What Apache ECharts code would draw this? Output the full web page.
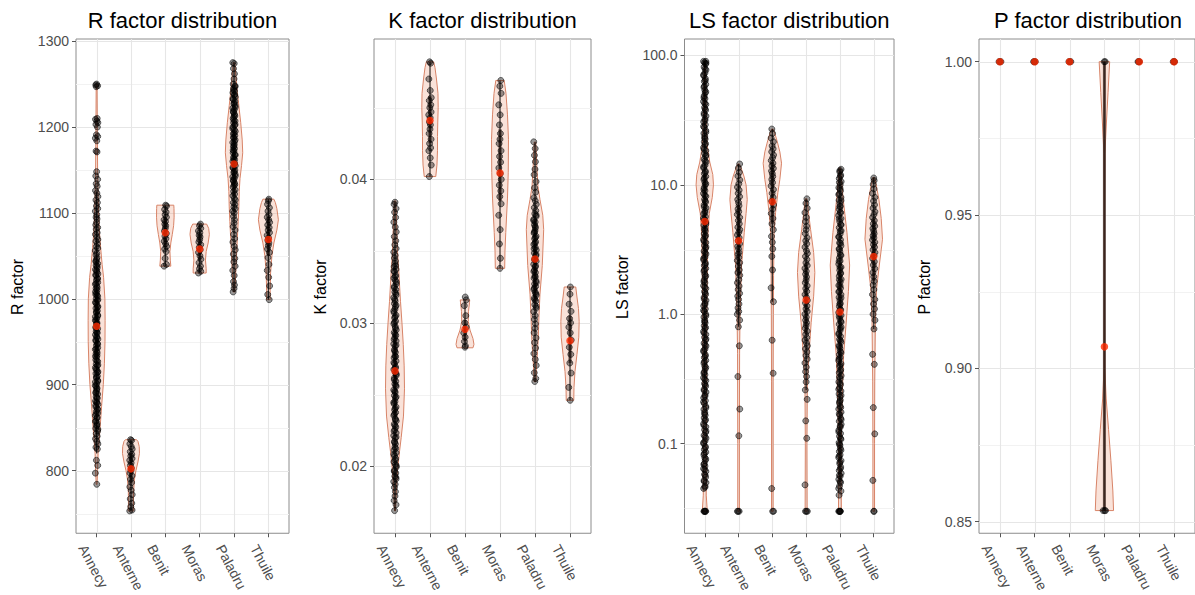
<!DOCTYPE html>
<html><head><meta charset="utf-8">
<script src="https://cdn.jsdelivr.net/npm/echarts@6/dist/echarts.min.js"></script>
<style>html,body{margin:0;padding:0;background:#fff}#c{width:1195px;height:595px}</style>
</head><body><div id="c"></div>
<script>
// ---------- categories ----------
const LAKES = ['Annecy', 'Anterne', 'Benit', 'Moras', 'Paladru', 'Thuile'];

// ---------- R factor ----------
const R_TICKS = [800, 900, 1000, 1100, 1200, 1300];
const R_MINOR = [750, 850, 950, 1050, 1150, 1250];
const R_MEANS = [968, 802, 1077, 1058, 1157, 1069];
// narrow box-plot per lake: [lower whisker, Q1, Q3, upper whisker]
const R_BOX = [[820, 930, 1010, 1125], [753, 785, 820, 836], [1038, 1060, 1095, 1109], [1030, 1045, 1075, 1087], [1008, 1120, 1195, 1275], [999, 1050, 1095, 1116]];
// violin outlines: [value, half-width (category units, from density)]
const R_VIOLIN_ANNECY = [[784,0.012],[800,0.029],[820,0.044],[850,0.102],[875,0.145],[900,0.195],[925,0.227],[950,0.244],[975,0.247],[1000,0.241],[1025,0.203],[1040,0.160],[1060,0.116],[1080,0.078],[1100,0.058],[1125,0.041],[1150,0.029],[1200,0.020],[1250,0.012]];
const R_VIOLIN_ANTERNE = [[753,0.081],[760,0.073],[775,0.076],[790,0.102],[800,0.145],[810,0.203],[820,0.247],[828,0.241],[834,0.203],[836,0.160]];
const R_VIOLIN_BENIT = [[1038,0.160],[1045,0.145],[1055,0.134],[1065,0.160],[1075,0.203],[1085,0.241],[1095,0.256],[1105,0.253],[1109,0.247]];
const R_VIOLIN_MORAS = [[1030,0.189],[1035,0.189],[1045,0.169],[1055,0.189],[1065,0.247],[1075,0.282],[1082,0.262],[1087,0.203]];
const R_VIOLIN_PALADRU = [[1008,0.023],[1030,0.049],[1050,0.073],[1070,0.096],[1090,0.122],[1107,0.140],[1125,0.151],[1140,0.174],[1155,0.218],[1170,0.253],[1185,0.238],[1205,0.195],[1225,0.140],[1241,0.096],[1260,0.052],[1275,0.023]];
const R_VIOLIN_THUILE = [[999,0.052],[1010,0.052],[1030,0.064],[1050,0.102],[1065,0.160],[1080,0.247],[1092,0.291],[1105,0.247],[1112,0.203],[1116,0.160]];
// observations
const R_PTS_ANNECY = [1250,1249,1248,1247,1210,1209,1207,1205,1203,1200,1191,1189,1187,1184,1172,1171,1148,1143,1139,1134,1131,1126,1123,1119,1115,1112,1108,1105,1102,1098,1095,1093,1089,1086,1083,1081,1077,1075,1072,1069,1067,1064,1061,1059,1056,1053,1051,1048,1046,1044,1041,1039,1036,1034,1031,1029,1027,1024,1022,1019,1017,1015,1012,1010,1007,1005,1003,1000,998,996,993,991,989,986,984,981,979,977,974,972,970,967,965,962,960,958,955,953,951,948,946,943,941,939,936,934,932,929,927,924,922,920,917,915,913,910,908,905,903,901,898,896,893,891,889,886,884,881,879,877,874,872,869,867,864,861,858,855,852,849,846,843,840,837,834,831,827,825,812,806,797,784,
  1043,1038,1033,1028,1023,1018,1013,1008,1004,999,995,990,985,980,975,971,966,961,956,952,947,942,937,933,928,923,918,914,909,904,899,895,890,885,880,876,871,866,862,857,853,848];
const R_PTS_ANTERNE = [836,835,831,828,825,822,819,817,814,812,809,806,803,800,797,794,790,786,781,777,772,767,762,758,754,753];
const R_PTS_BENIT = [1109,1108,1104,1101,1098,1095,1092,1090,1087,1085,1082,1079,1076,1073,1070,1067,1064,1061,1058,1055,1047,1040,1038];
const R_PTS_MORAS = [1087,1085,1082,1079,1077,1074,1072,1069,1066,1063,1060,1057,1054,1050,1046,1042,1038,1035,1032,1030];
const R_PTS_PALADRU = [1275,1274,1268,1262,1256,1250,1247,1245,1242,1240,1237,1235,1232,1230,1227,1225,1222,1220,1217,1215,1212,1210,1207,1205,1202,1200,1197,1195,1192,1190,1187,1185,1182,1180,1177,1175,1172,1170,1167,1165,1162,1160,1157,1155,1152,1150,1147,1145,1142,1140,1137,1135,1132,1130,1127,1125,1122,1120,1117,1115,1112,1110,1107,1105,1102,1100,1096,1092,1088,1084,1080,1075,1070,1066,1061,1057,1052,1047,1043,1038,1033,1027,1020,1016,1012,1008,
  1248,1243,1238,1233,1228,1223,1218,1213,1208,1203,1198,1193,1188,1183,1178,1173,1168,1163,1158,1153,1148,1143,1138,1133];
const R_PTS_THUILE = [1116,1114,1110,1106,1102,1098,1095,1092,1089,1086,1083,1080,1077,1074,1071,1068,1065,1062,1058,1054,1048,1040,1033,1025,1015,1005,999];

// ---------- K factor ----------
const K_TICKS = [0.02, 0.03, 0.04];
const K_MINOR = [0.025, 0.035, 0.045];
const K_MEANS = [0.02665, 0.0441, 0.02955, 0.04045, 0.03445, 0.02875];
const K_BOX = [[0.0169, 0.0235, 0.0295, 0.0384], [0.0402, 0.0425, 0.0458, 0.0482], [0.0283, 0.0287, 0.0302, 0.0316], [0.0338, 0.0385, 0.0435, 0.0469], [0.0259, 0.0315, 0.0372, 0.0426], [0.0246, 0.0272, 0.0305, 0.0325]];
const K_VIOLIN_ANNECY = [[0.0169,0.014],[0.0185,0.043],[0.0197,0.071],[0.021,0.128],[0.022,0.177],[0.0235,0.242],[0.0254,0.271],[0.027,0.262],[0.0285,0.236],[0.030,0.199],[0.0315,0.157],[0.0336,0.108],[0.035,0.071],[0.037,0.043],[0.0385,0.023]];
const K_VIOLIN_ANTERNE = [[0.0402,0.165],[0.041,0.199],[0.042,0.214],[0.043,0.214],[0.044,0.222],[0.045,0.234],[0.046,0.228],[0.047,0.185],[0.0478,0.142],[0.0482,0.105]];
const K_VIOLIN_BENIT = [[0.02826,0.228],[0.0285,0.256],[0.0289,0.228],[0.0295,0.142],[0.0301,0.094],[0.0308,0.100],[0.0314,0.128],[0.0316,0.134]];
const K_VIOLIN_MORAS = [[0.0338,0.134],[0.035,0.142],[0.0363,0.165],[0.0387,0.214],[0.0405,0.236],[0.0428,0.242],[0.0445,0.214],[0.046,0.171],[0.0469,0.120]];
const K_VIOLIN_PALADRU = [[0.0259,0.028],[0.027,0.043],[0.028,0.071],[0.029,0.094],[0.0305,0.114],[0.032,0.142],[0.034,0.208],[0.0365,0.248],[0.0375,0.222],[0.0386,0.142],[0.0395,0.085],[0.041,0.051],[0.0426,0.023]];
const K_VIOLIN_THUILE = [[0.0246,0.108],[0.0255,0.114],[0.0266,0.142],[0.0278,0.199],[0.029,0.251],[0.0301,0.262],[0.031,0.242],[0.0318,0.199],[0.0325,0.165]];
const K_PTS_ANNECY = [0.03841,0.03826,0.03797,0.03771,0.03735,0.03702,0.03668,0.03634,0.03601,0.03572,0.03544,0.03518,0.03493,0.03471,0.03452,0.03431,0.03414,0.03392,0.03373,0.03355,0.03331,0.03312,0.03296,0.03271,0.03254,0.03232,0.03215,0.03193,0.03176,0.03151,0.03134,0.03112,0.03095,0.03071,0.03053,0.03034,0.03012,0.02993,0.02975,0.02951,0.02934,0.02912,0.02896,0.02874,0.02853,0.02836,0.02813,0.02795,0.02771,0.02756,0.02733,0.02714,0.02692,0.02675,0.02653,0.02634,0.02615,0.02593,0.02574,0.02556,0.02532,0.02515,0.02493,0.02476,0.02452,0.02435,0.02414,0.02393,0.02375,0.02354,0.02332,0.02316,0.02294,0.02273,0.02255,0.02233,0.02214,0.02196,0.02173,0.02155,0.02134,0.02113,0.02095,0.02072,0.02054,0.02031,0.02013,0.01994,0.01972,0.01953,0.01931,0.01912,0.01893,0.01874,0.01852,0.01823,0.01792,0.01761,0.01732,0.01691,
  0.03398,0.03362,0.03322,0.03285,0.03244,0.03205,0.03163,0.03122,0.03083,0.03043,0.03004,0.02963,0.02923,0.02884,0.02845,0.02804,0.02764,0.02723,0.02684,0.02644,0.02603,0.02565,0.02524,0.02484,0.02445,0.02403,0.02364,0.02325,0.02284,0.02245,0.02204,0.02165,0.02124,0.02084,0.02043,0.02004,0.01963,0.01923];
const K_PTS_ANTERNE = [0.0482,0.0481,0.0470,0.0462,0.0457,0.0455,0.0452,0.0450,0.0447,0.0445,0.0443,0.0440,0.0438,0.0435,0.0432,0.0428,0.0425,0.0422,0.0420,0.0415,0.0410,0.0402];
const K_PTS_BENIT = [0.0318,0.0316,0.0312,0.0305,0.0300,0.0297,0.0293,0.0290,0.0287,0.0284,0.0283];
const K_PTS_MORAS = [0.0469,0.0465,0.0460,0.0452,0.0445,0.0438,0.0432,0.0428,0.0425,0.0420,0.0416,0.0412,0.0408,0.0404,0.0400,0.0396,0.0392,0.0388,0.0383,0.0375,0.0365,0.0355,0.0345,0.0338];
const K_PTS_PALADRU = [0.04262,0.04215,0.04168,0.04123,0.04071,0.04033,0.03985,0.03942,0.03911,0.03872,0.03851,0.03826,0.03803,0.03782,0.03761,0.03742,0.03721,0.03703,0.03684,0.03662,0.03643,0.03625,0.03604,0.03586,0.03565,0.03547,0.03526,0.03508,0.03487,0.03468,0.03447,0.03429,0.03408,0.03389,0.03368,0.03351,0.03329,0.03311,0.03292,0.03271,0.03253,0.03232,0.03214,0.03193,0.03172,0.03151,0.03127,0.03102,0.03078,0.03051,0.03024,0.02993,0.02962,0.02931,0.02895,0.02862,0.02824,0.02786,0.02745,0.02703,0.02652,0.02612,0.02591,
  0.03752,0.03713,0.03672,0.03633,0.03594,0.03555,0.03516,0.03477,0.03438,0.03397,0.03358,0.03319,0.03281,0.03242,0.03203,0.03162,0.03115];
const K_PTS_THUILE = [0.0325,0.0320,0.0313,0.0308,0.0303,0.0300,0.0297,0.0293,0.0288,0.0283,0.0278,0.0272,0.0265,0.0255,0.0246];

// ---------- LS factor (log scale) ----------
const LS_TICKS = [0.1, 1, 10, 100];
const LS_MINOR = [0.0316, 0.316, 3.16, 31.6];
const LS_MEANS = [5.2, 3.7, 7.4, 1.29, 1.04, 2.79];
const LS_BOX = [[0.24, 2.5, 12, 90], [0.8, 2, 7, 14.5], [1.25, 5, 15, 27], [0.26, 0.7, 2.5, 7.8], [0.05, 0.4, 2.5, 13.2], [0.77, 1.8, 5.5, 11.3]];
const LS_VIOLIN_ANNECY = [[0.03,0.074],[0.04,0.044],[0.1,0.044],[0.3,0.053],[1,0.059],[2,0.074],[4,0.089],[6,0.133],[8,0.222],[10,0.257],[12,0.237],[15,0.148],[20,0.074],[30,0.044],[60,0.030],[90,0.015]];
const LS_VIOLIN_ANTERNE = [[0.03,0.024],[0.1,0.024],[0.5,0.030],[1,0.044],[1.5,0.065],[2.4,0.089],[3.3,0.133],[4.3,0.169],[6,0.222],[7.7,0.257],[10,0.222],[11.7,0.157],[13.5,0.074],[14.5,0.024]];
const LS_VIOLIN_BENIT = [[0.03,0.024],[0.3,0.024],[1,0.030],[2,0.036],[4.3,0.053],[6.1,0.095],[8.7,0.163],[11,0.222],[14.7,0.272],[18,0.222],[21,0.157],[25,0.074],[27,0.024]];
const LS_VIOLIN_MORAS = [[0.03,0.030],[0.1,0.024],[0.3,0.036],[0.48,0.083],[0.86,0.148],[1.38,0.222],[2.1,0.257],[3,0.222],[4.5,0.133],[6,0.074],[7.8,0.024]];
const LS_VIOLIN_PALADRU = [[0.03,0.044],[0.05,0.036],[0.1,0.038],[0.26,0.074],[0.48,0.109],[0.87,0.186],[1.5,0.251],[2.4,0.287],[4.3,0.207],[7.7,0.098],[10,0.059],[13.5,0.024]];
const LS_VIOLIN_THUILE = [[0.03,0.024],[0.1,0.024],[0.3,0.030],[0.87,0.050],[1.56,0.083],[2.36,0.163],[3.8,0.260],[5.5,0.222],[7.7,0.154],[10,0.074],[11.4,0.024]];
const LS_PTS_ANNECY = [0.03,0.03,0.03,0.03,0.03,0.045,0.047,0.05,0.052,0.055,0.058,0.061,0.064,0.067,0.07,0.074,0.078,0.082,0.086,0.09,0.095,0.1,0.105,0.11,0.116,0.122,0.128,0.135,0.142,0.15,0.158,0.166,0.175,0.184,0.194,0.204,0.215,0.226,0.238,0.25,0.263,0.277,0.292,0.307,0.323,0.34,0.358,0.377,0.397,0.418,0.44,0.463,0.487,0.513,0.54,0.568,0.598,0.63,0.663,0.698,0.735,0.774,0.815,0.858,0.9,0.95,1.0,1.05,1.1,1.16,1.22,1.28,1.35,1.42,1.5,1.58,1.66,1.75,1.84,1.94,2.04,2.15,2.26,2.38,2.5,2.63,2.77,2.92,3.07,3.23,3.4,3.58,3.77,3.97,4.18,4.4,4.63,4.87,5.13,5.4,5.68,5.98,6.3,6.63,6.98,7.35,7.74,8.15,8.58,9.0,9.5,10,10.5,11,11.6,12.2,12.8,13.5,14.2,15,15.8,16.6,17.5,18.4,19.4,20.4,21.5,22.6,23.8,25,26.3,27.7,29.2,30.7,32.3,34,35.8,37.7,39.7,41.8,44,46.3,48.7,51.3,54,56.8,59.8,63,66.3,69.8,73.5,77.4,81.5,85.8,88,90,90,
  0.046,0.051,0.057,0.063,0.069,0.076,0.084,0.093,0.102,0.113,0.125,0.138,0.153,0.17,0.189,0.21,0.232,0.257,0.285,0.315,0.35,0.388,0.43,0.475,0.525,0.58,0.645,0.715,0.79,0.875,0.97,1.07,1.19,1.31,1.46,1.62,1.79,1.98,2.2,2.43,2.7,2.99,3.31,3.66,4.05,4.5,4.98,5.5,6.1,6.75,7.5,8.3,9.2,10.2,11.3,12.5,13.8,15.3,17,18.8,20.8,23,25.5,28.3,31.4,34.8,38.5,42.6,47.2,52.3,57.9,64.1,71,78.6,87];
const LS_PTS_ANTERNE = [0.03,0.03,0.03,0.115,0.185,0.33,0.57,0.8,0.9,1.0,1.05,1.12,1.2,1.3,1.38,1.45,1.55,1.65,1.75,1.85,2.0,2.1,2.2,2.35,2.5,2.6,2.75,2.9,3.0,3.2,3.35,3.5,3.7,3.9,4.1,4.3,4.5,4.7,5.0,5.3,5.6,5.9,6.2,6.5,6.9,7.3,7.7,8.1,8.6,9.1,9.6,10.2,10.9,11.7,12.5,13.5,14.5];
const LS_PTS_BENIT = [0.03,0.03,0.045,0.35,0.63,1.25,1.6,2.2,2.8,3.2,3.6,4.0,4.5,5.0,5.5,6.0,6.5,7.0,7.5,8.0,8.6,9.2,9.8,10.4,11.0,11.6,12.2,12.8,13.4,14.0,14.7,15.4,16.2,17,18,19,20,21.5,23,25,27];
const LS_PTS_MORAS = [7.8,7.2,6.6,6.1,5.6,5.2,4.8,4.5,4.2,3.9,3.7,3.5,3.3,3.1,2.95,2.8,2.65,2.5,2.38,2.26,2.15,2.04,1.94,1.84,1.75,1.66,1.58,1.5,1.42,1.35,1.28,1.22,1.16,1.1,1.05,1.0,0.95,0.9,0.86,0.82,0.78,0.74,0.7,0.66,0.63,0.6,0.57,0.54,0.51,0.48,0.45,0.42,0.39,0.36,0.33,0.3,0.26,0.22,0.15,0.11,0.048,0.03,0.03,0.03];
const LS_PTS_PALADRU = [0.03,0.03,0.03,0.03,0.03,0.04,0.043,0.047,0.05,0.053,0.056,0.059,0.062,0.066,0.07,0.074,0.078,0.082,0.087,0.092,0.097,0.102,0.108,0.114,0.12,0.127,0.134,0.141,0.149,0.157,0.166,0.175,0.185,0.195,0.206,0.217,0.229,0.242,0.255,0.27,0.285,0.3,0.317,0.335,0.353,0.373,0.394,0.415,0.438,0.463,0.488,0.515,0.544,0.574,0.606,0.64,0.675,0.713,0.752,0.794,0.838,0.885,0.93,0.98,1.03,1.09,1.15,1.21,1.28,1.35,1.42,1.5,1.59,1.67,1.77,1.86,1.97,2.08,2.19,2.31,2.44,2.58,2.72,2.87,3.03,3.2,3.38,3.56,3.76,3.97,4.19,4.42,4.67,4.93,5.2,5.49,5.8,6.12,6.46,6.82,7.2,7.6,8.0,8.5,9.0,9.5,10.0,10.6,11.2,11.9,12.6,13.2,
  0.045,0.051,0.057,0.064,0.072,0.08,0.089,0.099,0.11,0.123,0.137,0.153,0.17,0.19,0.212,0.236,0.263,0.293,0.327,0.364,0.406,0.452,0.504,0.562,0.626,0.698,0.778,0.867,0.966,1.08,1.2,1.34,1.49,1.66,1.85,2.06,2.3,2.56,2.85,3.18,3.54,3.95,4.4,4.9,5.46,6.09,6.78,7.56,8.42,9.38,10.45,11.65,12.9];
const LS_PTS_THUILE = [0.03,0.03,0.052,0.119,0.19,0.41,0.49,0.77,0.9,1.0,1.1,1.2,1.3,1.42,1.55,1.68,1.8,1.95,2.1,2.25,2.4,2.55,2.7,2.85,3.0,3.15,3.3,3.45,3.6,3.75,3.9,4.05,4.2,4.4,4.6,4.8,5.0,5.3,5.6,5.9,6.2,6.6,7.0,7.5,8.0,8.6,9.3,10.1,10.8,11.3];

// ---------- P factor ----------
const P_TICKS = [0.85, 0.90, 0.95, 1.00];
const P_MINOR = [0.875, 0.925, 0.975];
const P_MEANS = [1.0, 1.0, 1.0, 0.907, 1.0, 1.0];
const P_BOX = [null, null, null, [0.8536, 0.8536, 1.0, 1.0], null, null];
const P_VIOLIN_MORAS = [[0.8536,0.262],[0.86,0.242],[0.87,0.185],[0.88,0.119],[0.89,0.051],[0.9,0.011],[0.92,0.003],[0.95,0.003],[0.97,0.014],[0.98,0.057],[0.99,0.105],[1.0,0.151]];
const P_PTS_ANNECY = [1, 1, 1];
const P_PTS_ANTERNE = [1, 1, 1];
const P_PTS_BENIT = [1, 1, 1];
const P_PTS_MORAS = [1, 1, 0.8536, 0.8536, 0.8536];
const P_PTS_PALADRU = [1, 1, 1];
const P_PTS_THUILE = [1, 1, 1];

// ---------- layout / style (not data) ----------
const FONT = '"Liberation Sans", Arial, Helvetica, sans-serif';
const JITTER = [0, -0.025, 0.03, -0.012, 0.017, -0.033, 0.008, 0.036, -0.02, 0.023, -0.006, 0.032, -0.036, 0.005, -0.016, 0.012];
const CATS = [1, 2, 3, 4, 5, 6];

const PANELS = [
  { title: 'R factor distribution', yname: 'R factor', nameX: 17.5,
    grid: { left: 76, top: 39, width: 213, height: 496 },
    ytype: 'value', ymin: 727, ymax: 1302.5, ticks: R_TICKS, minor: R_MINOR, fmt: v => String(v),
    violins: [R_VIOLIN_ANNECY, R_VIOLIN_ANTERNE, R_VIOLIN_BENIT, R_VIOLIN_MORAS, R_VIOLIN_PALADRU, R_VIOLIN_THUILE],
    pts: [R_PTS_ANNECY, R_PTS_ANTERNE, R_PTS_BENIT, R_PTS_MORAS, R_PTS_PALADRU, R_PTS_THUILE],
    means: R_MEANS, box: R_BOX },
  { title: 'K factor distribution', yname: 'K factor', nameX: 320,
    grid: { left: 374, top: 39, width: 217, height: 496 },
    ytype: 'value', ymin: 0.01533, ymax: 0.04979, ticks: K_TICKS, minor: K_MINOR, fmt: v => v.toFixed(2),
    violins: [K_VIOLIN_ANNECY, K_VIOLIN_ANTERNE, K_VIOLIN_BENIT, K_VIOLIN_MORAS, K_VIOLIN_PALADRU, K_VIOLIN_THUILE],
    pts: [K_PTS_ANNECY, K_PTS_ANTERNE, K_PTS_BENIT, K_PTS_MORAS, K_PTS_PALADRU, K_PTS_THUILE],
    means: K_MEANS, box: K_BOX },
  { title: 'LS factor distribution', yname: 'LS factor', nameX: 622,
    grid: { left: 684.5, top: 39, width: 209.5, height: 496 },
    ytype: 'log', ymin: 0.0203, ymax: 134, ticks: LS_TICKS, minor: LS_MINOR, fmt: v => v.toFixed(1),
    violins: [LS_VIOLIN_ANNECY, LS_VIOLIN_ANTERNE, LS_VIOLIN_BENIT, LS_VIOLIN_MORAS, LS_VIOLIN_PALADRU, LS_VIOLIN_THUILE],
    pts: [LS_PTS_ANNECY, LS_PTS_ANTERNE, LS_PTS_BENIT, LS_PTS_MORAS, LS_PTS_PALADRU, LS_PTS_THUILE],
    means: LS_MEANS, box: LS_BOX },
  { title: 'P factor distribution', yname: 'P factor', nameX: 924,
    grid: { left: 979, top: 39, width: 218, height: 496 },
    ytype: 'value', ymin: 0.8462, ymax: 1.0074, ticks: P_TICKS, minor: P_MINOR, fmt: v => v.toFixed(2),
    violins: [null, null, null, P_VIOLIN_MORAS, null, null],
    pts: [P_PTS_ANNECY, P_PTS_ANTERNE, P_PTS_BENIT, P_PTS_MORAS, P_PTS_PALADRU, P_PTS_THUILE],
    means: P_MEANS, box: P_BOX }
];

const grids = [], xAxes = [], yAxes = [], series = [], graphics = [];

PANELS.forEach((p, k) => {
  grids.push(Object.assign({ show: true, borderColor: '#8c8c8c', borderWidth: 1, backgroundColor: 'transparent', containLabel: false }, p.grid));
  xAxes.push({
    type: 'value', gridIndex: k, min: 0.4, max: 6.6,
    axisLine: { show: false }, splitLine: { show: false },
    axisTick: { show: true, customValues: CATS, length: 4, lineStyle: { color: '#555', width: 1 } },
    axisLabel: { customValues: CATS, formatter: v => LAKES[Math.round(v) - 1], rotate: -62, margin: 5,
      verticalAlign: 'top', padding: [9, 0, 0, 0],
      fontSize: 14, color: '#4d4d4d', fontFamily: FONT }
  });
  const y = {
    type: p.ytype, gridIndex: k, min: p.ymin, max: p.ymax,
    axisLine: { show: false }, splitLine: { show: false },
    axisTick: { show: true, customValues: p.ticks, length: 4, lineStyle: { color: '#555', width: 1 } },
    axisLabel: { customValues: p.ticks, formatter: p.fmt, margin: 7, fontSize: 14, color: '#4d4d4d', fontFamily: FONT }
  };
  if (p.ytype === 'log') y.logBase = 10;
  yAxes.push(y);

  const refY = p.ticks[0];
  // minor horizontal grid
  series.push({
    type: 'custom', xAxisIndex: k, yAxisIndex: k, silent: true, z: 0,
    data: p.minor.map(v => [1, v]),
    renderItem: (params, api) => {
      const cs = params.coordSys;
      const yy = Math.round(api.coord([1, api.value(1)])[1]) + 0.5;
      return { type: 'line', shape: { x1: cs.x, y1: yy, x2: cs.x + cs.width, y2: yy }, style: { stroke: '#f2f2f2', lineWidth: 1 } };
    }
  });
  // major horizontal grid
  series.push({
    type: 'custom', xAxisIndex: k, yAxisIndex: k, silent: true, z: 0,
    data: p.ticks.map(v => [1, v]),
    renderItem: (params, api) => {
      const cs = params.coordSys;
      const yy = Math.round(api.coord([1, api.value(1)])[1]) + 0.5;
      return { type: 'line', shape: { x1: cs.x, y1: yy, x2: cs.x + cs.width, y2: yy }, style: { stroke: '#e6e6e6', lineWidth: 1.1 } };
    }
  });
  // vertical grid at categories
  series.push({
    type: 'custom', xAxisIndex: k, yAxisIndex: k, silent: true, z: 0,
    data: CATS.map(c => [c, refY]),
    renderItem: (params, api) => {
      const cs = params.coordSys;
      const xx = Math.round(api.coord([api.value(0), api.value(1)])[0]) + 0.5;
      return { type: 'line', shape: { x1: xx, y1: cs.y, x2: xx, y2: cs.y + cs.height }, style: { stroke: '#e6e6e6', lineWidth: 1.1 } };
    }
  });
  // violins + narrow box plots
  series.push({
    type: 'custom', xAxisIndex: k, yAxisIndex: k, silent: true, z: 2, clip: true,
    data: CATS.map((c, i) => [c, p.means[i]]),
    renderItem: (params, api) => {
      const i = params.dataIndex;
      const v = p.violins[i];
      const cx = i + 1;
      const children = [];
      if (v) {
        const right = v.map(d => api.coord([cx + d[1], d[0]]));
        const left = v.slice().reverse().map(d => api.coord([cx - d[1], d[0]]));
        children.push({ type: 'polygon', shape: { points: right.concat(left) },
          style: { fill: 'rgba(236,160,128,0.30)', stroke: '#d88468', lineWidth: 1 } });
      }
      const b = p.box[i];
      if (b) {
        const w0 = api.coord([cx, b[0]]), w1 = api.coord([cx, b[3]]);
        children.push({ type: 'line', shape: { x1: w0[0], y1: w0[1], x2: w1[0], y2: w1[1] },
          style: { stroke: 'rgba(25,20,18,0.85)', lineWidth: 1.2 } });
        const q1 = api.coord([cx, b[1]]), q3 = api.coord([cx, b[2]]);
        children.push({ type: 'rect', shape: { x: q1[0] - 1.5, y: q3[1], width: 3, height: Math.max(1, q1[1] - q3[1]) },
          style: { fill: 'rgba(60,38,30,0.8)' } });
      }
      return { type: 'group', children };
    }
  });
  // jittered observations
  const pts = [];
  p.pts.forEach((arr, i) => arr.forEach((val, j) => pts.push([i + 1 + JITTER[(j + i * 3) % JITTER.length], val])));
  series.push({
    type: 'scatter', xAxisIndex: k, yAxisIndex: k, silent: true, z: 3,
    symbolSize: 6, data: pts,
    itemStyle: { color: 'rgba(0,0,0,0.5)', borderColor: 'rgba(0,0,0,0.85)', borderWidth: 0.8 }
  });
  // means
  series.push({
    type: 'scatter', xAxisIndex: k, yAxisIndex: k, silent: true, z: 4,
    symbolSize: 7.5, data: p.means.map((m, i) => [i + 1, m]),
    itemStyle: { color: '#ff2a00', borderWidth: 0 }
  });

  const cx = p.grid.left + p.grid.width / 2;
  graphics.push({ type: 'text', x: cx, y: 20.5, style: { text: p.title, fill: '#000', font: '22px ' + FONT, textAlign: 'center', textVerticalAlign: 'middle' } });
  graphics.push({ type: 'text', x: p.nameX, y: p.grid.top + p.grid.height / 2, rotation: Math.PI / 2,
    style: { text: p.yname, fill: '#000', font: '16px ' + FONT, textAlign: 'center', textVerticalAlign: 'middle' } });
});

const chart = echarts.init(document.getElementById('c'), null, { renderer: 'svg', width: 1195, height: 595 });
chart.setOption({
  animation: false,
  backgroundColor: '#fff',
  grid: grids, xAxis: xAxes, yAxis: yAxes, series: series, graphic: graphics
});
</script></body></html>
